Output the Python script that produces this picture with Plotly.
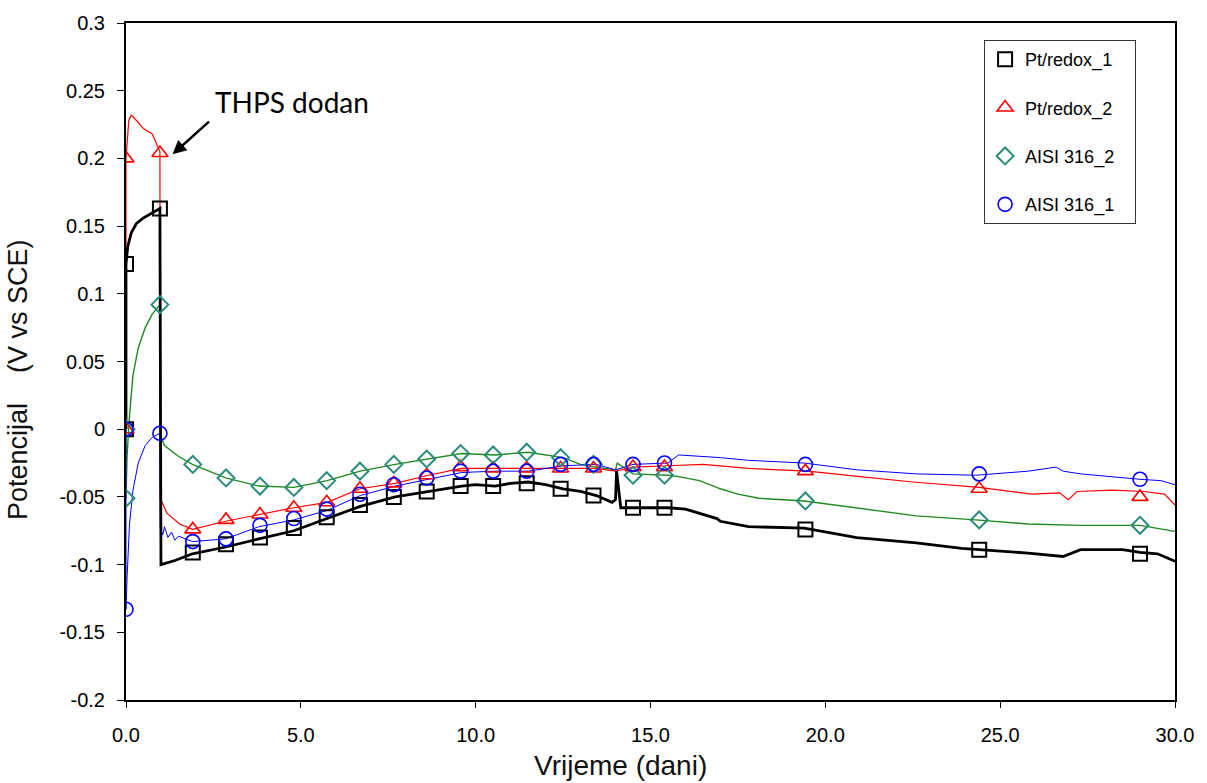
import plotly.graph_objects as go

# ---------------- data ----------------
# continuous lines (days, V vs SCE)
black_x = [0, 0, 0.05, 0.15, 0.3, 0.5, 0.7, 0.97, 1.0, 1.4, 1.9, 2.85, 3.8, 4.8, 5.75, 6.7, 7.7, 8.65, 9.6, 10.0, 10.55,
           11.0, 11.5, 12.0, 12.5, 13.0, 13.45, 13.9, 14.0, 14.03, 14.15, 14.5, 15.5, 16.0, 16.9, 17.0, 17.8, 19.4, 20.9,
           22.6, 23.9, 25.8, 26.8, 27.3, 28.5, 29.0, 29.5, 30.0]
black_y = [0, 0.122, 0.135, 0.145, 0.152, 0.156, 0.159, 0.163, -0.1, -0.097, -0.092, -0.087, -0.081, -0.075, -0.066, -0.057,
           -0.05, -0.046, -0.042, -0.041, -0.042, -0.04, -0.039, -0.041, -0.044, -0.046, -0.049, -0.054, -0.052, -0.031,
           -0.058, -0.058, -0.058, -0.059, -0.066, -0.068, -0.072, -0.073, -0.08, -0.084, -0.088, -0.0915, -0.094, -0.089,
           -0.089, -0.091, -0.092, -0.0975]

red_x = [0, 0, 0.08, 0.15, 0.3, 0.5, 0.75, 0.97, 0.98, 1.17, 1.54, 1.9, 2.85, 3.8, 4.8, 5.75, 6.7, 7.7, 8.65, 9.6, 10.55,
         11.5, 12.5, 13.45, 14.0, 14.5, 15.5, 16.5, 17.8, 19.5, 21.0, 22.5, 24.4, 25.9, 26.7, 26.95, 27.2, 28.2, 29.1,
         29.7, 30.0]
red_y = [0, 0.2, 0.228, 0.232, 0.228, 0.222, 0.218, 0.205, -0.051, -0.062, -0.07, -0.074, -0.068, -0.063, -0.058, -0.054,
         -0.044, -0.04, -0.034, -0.029, -0.029, -0.029, -0.029, -0.029, -0.031, -0.028, -0.027, -0.026, -0.029, -0.031,
         -0.035, -0.039, -0.043, -0.048, -0.047, -0.052, -0.046, -0.045, -0.046, -0.048, -0.056]

green_x = [0, 0, 0.03, 0.1, 0.2, 0.35, 0.55, 0.75, 0.97, 0.98, 1.1, 1.5, 1.9, 2.85, 3.8, 4.8, 5.75, 6.7, 7.7, 8.65, 9.6,
           10.55, 11.5, 12.5, 13.0, 13.45, 14.0, 14.05, 14.5, 15.5, 15.8, 16.4, 17.0, 17.5, 18.1, 19.4, 20.9, 22.6, 24.3,
           25.8, 27.3, 29.0, 30.0]
green_y = [0, -0.051, -0.02, 0.01, 0.04, 0.06, 0.075, 0.085, 0.092, -0.004, -0.012, -0.02, -0.026, -0.036, -0.042, -0.043,
           -0.038, -0.031, -0.026, -0.022, -0.018, -0.019, -0.017, -0.021, -0.026, -0.028, -0.03, -0.025, -0.033, -0.034,
           -0.035, -0.038, -0.044, -0.048, -0.051, -0.053, -0.058, -0.064, -0.067, -0.07, -0.071, -0.071, -0.0755]

blue_x = [0, 0, 0.03, 0.1, 0.2, 0.35, 0.55, 0.75, 0.97, 0.98, 1.05, 1.1, 1.2, 1.3, 1.4, 1.5, 1.9, 2.85, 3.8, 4.8, 5.75,
          6.7, 7.7, 8.65, 9.6, 10.55, 11.5, 12.5, 13.45, 14.0, 14.5, 15.5, 15.8, 17.0, 17.8, 19.4, 20.9, 22.6, 24.3,
          25.8, 26.6, 26.8, 27.3, 29.0, 29.6, 30.0]
blue_y = [0, -0.133, -0.11, -0.07, -0.045, -0.025, -0.012, -0.006, -0.003, -0.073, -0.078, -0.072, -0.08, -0.076, -0.082,
          -0.079, -0.083, -0.081, -0.072, -0.067, -0.06, -0.049, -0.042, -0.037, -0.032, -0.031, -0.031, -0.027, -0.026,
          -0.03, -0.026, -0.025, -0.019, -0.021, -0.023, -0.025, -0.03, -0.033, -0.034, -0.031, -0.028, -0.031, -0.033,
          -0.037, -0.038, -0.041]

# markers
mark_x = [0, 0, 0.97, 1.91, 2.86, 3.83, 4.8, 5.74, 6.69, 7.66, 8.6, 9.57, 10.5, 11.46, 12.43, 13.37, 14.5, 15.4, 19.43,
          24.4, 29.0]
black_m = [0, 0.122, 0.163, -0.091, -0.085, -0.080, -0.073, -0.065, -0.056, -0.050, -0.046, -0.042, -0.042, -0.040,
           -0.044, -0.049, -0.058, -0.058, -0.074, -0.089, -0.092]
red_m = [0, 0.2, 0.204, -0.074, -0.067, -0.063, -0.058, -0.054, -0.044, -0.040, -0.034, -0.028, -0.029, -0.029, -0.029,
         -0.029, -0.028, -0.028, -0.031, -0.044, -0.050]
green_m = [0, -0.051, 0.092, -0.026, -0.036, -0.042, -0.043, -0.038, -0.031, -0.026, -0.022, -0.018, -0.019, -0.017,
           -0.021, -0.026, -0.034, -0.034, -0.053, -0.067, -0.071]
blue_m = [0, -0.133, -0.003, -0.083, -0.081, -0.071, -0.066, -0.059, -0.048, -0.041, -0.036, -0.031, -0.031, -0.031,
          -0.026, -0.026, -0.026, -0.025, -0.026, -0.033, -0.037]

series_names = ["Pt/redox_1", "Pt/redox_2", "AISI 316_2", "AISI 316_1"]

x_ticks = [0, 5, 10, 15, 20, 25, 30]
x_tick_text = ["0.0", "5.0", "10.0", "15.0", "20.0", "25.0", "30.0"]
y_ticks = [0.3, 0.25, 0.2, 0.15, 0.1, 0.05, 0, -0.05, -0.1, -0.15, -0.2]
y_tick_text = ["0.3", "0.25", "0.2", "0.15", "0.1", "0.05", "0", "-0.05", "-0.1", "-0.15", "-0.2"]

GREEN_LINE = "#1f8a1f"
GREEN_MARK = "#2a8c7c"
PAD = "\u00a0\u00a0\u00a0"

fig = go.Figure()

# lines (no legend)
fig.add_trace(go.Scatter(x=green_x, y=green_y, mode="lines", line=dict(color=GREEN_LINE, width=1.4), showlegend=False,
                         hoverinfo="skip"))
fig.add_trace(go.Scatter(x=red_x, y=red_y, mode="lines", line=dict(color="#ff0000", width=1.2), showlegend=False,
                         hoverinfo="skip"))
fig.add_trace(go.Scatter(x=blue_x, y=blue_y, mode="lines", line=dict(color="#0000ff", width=1.0), showlegend=False,
                         hoverinfo="skip"))
fig.add_trace(go.Scatter(x=black_x, y=black_y, mode="lines", line=dict(color="#000000", width=2.8), showlegend=False,
                         hoverinfo="skip"))

# markers (legend)
fig.add_trace(go.Scatter(x=mark_x, y=black_m, mode="markers", name=series_names[0] + PAD, legendgroup="a",
                         marker=dict(symbol="square-open", size=14, color="#000000", line=dict(width=2))))
fig.add_trace(go.Scatter(x=mark_x, y=red_m, mode="markers", name=series_names[1] + PAD, legendgroup="b",
                         marker=dict(symbol="triangle-up-open", size=14, color="#ff0000", line=dict(width=1.6))))
fig.add_trace(go.Scatter(x=mark_x, y=green_m, mode="markers", name=series_names[2] + PAD, legendgroup="c",
                         marker=dict(symbol="diamond-open", size=13, color=GREEN_MARK, line=dict(width=2))))
fig.add_trace(go.Scatter(x=mark_x, y=blue_m, mode="markers", name=series_names[3] + PAD, legendgroup="d",
                         marker=dict(symbol="circle-open", size=14, color="#0000ff", line=dict(width=1.6))))

yfont = dict(family="Liberation Sans, Arial, sans-serif", size=20, color="#000000")
xfont = dict(family="Liberation Sans, Arial, sans-serif", size=20, color="#000000")

fig.update_layout(
    width=1207, height=783,
    margin=dict(l=126, r=32, t=18, b=83),
    paper_bgcolor="white", plot_bgcolor="white",
    showlegend=True,
    legend=dict(x=0.818, y=0.975, xanchor="left", yanchor="top",
                bgcolor="white", bordercolor="#333333", borderwidth=1,
                font=dict(family="Liberation Sans, Arial, sans-serif", size=18, color="#000000"),
                traceorder="grouped", tracegroupgap=22, itemwidth=30),
    xaxis=dict(range=[0, 30], tickvals=x_ticks, ticktext=x_tick_text, showgrid=False, zeroline=False,
               showline=True, linecolor="black", linewidth=2, mirror=True,
               ticks="outside", ticklen=6, tickwidth=1, tickcolor="black", tickfont=xfont,
               ticklabelstandoff=10),
    yaxis=dict(range=[-0.2, 0.3], tickvals=y_ticks, ticktext=y_tick_text, showgrid=False, zeroline=False,
               showline=True, linecolor="black", linewidth=2, mirror=True,
               ticks="outside", ticklen=7, tickwidth=1, tickcolor="black", tickfont=yfont,
               ticklabelstandoff=8),
    xaxis2=dict(range=[0, 30], overlaying="x", tickvals=x_ticks, showticklabels=False, showgrid=False,
                zeroline=False, ticks="inside", ticklen=6, tickwidth=1, tickcolor="black", showline=False),
    yaxis2=dict(range=[-0.2, 0.3], overlaying="y", tickvals=y_ticks, showticklabels=False, showgrid=False,
                zeroline=False, ticks="inside", ticklen=6, tickwidth=1, tickcolor="black", showline=False),
)

# axis titles
fig.add_annotation(text="Vrijeme (dani)", xref="paper", yref="paper", x=0.471, y=-0.097, xanchor="center",
                   yanchor="middle", showarrow=False,
                   font=dict(family="Liberation Sans, Arial, sans-serif", size=28, color="#111111"))
fig.add_annotation(text="Potencijal    (V vs SCE)", xref="paper", yref="paper", x=-0.103, y=0.474, xanchor="center",
                   yanchor="middle", textangle=-90, showarrow=False,
                   font=dict(family="Liberation Sans, Arial, sans-serif", size=27, color="#111111"))

# THPS annotation
fig.add_annotation(text="THPS dodan", x=2.5, y=0.242, xref="x", yref="y", xanchor="left", yanchor="middle",
                   showarrow=False, font=dict(family="Lato, Open Sans, sans-serif", size=28, color="#000000"))
fig.add_annotation(text="", x=1.33, y=0.203, xref="x", yref="y", showarrow=True, arrowhead=2, arrowsize=1.1,
                   arrowwidth=2.5, arrowcolor="black", ax=38, ay=-34)

fig.write_html("out.html", config={"displayModeBar": False},
               post_script="document.body.style.margin='0';document.body.style.overflow='hidden';")
